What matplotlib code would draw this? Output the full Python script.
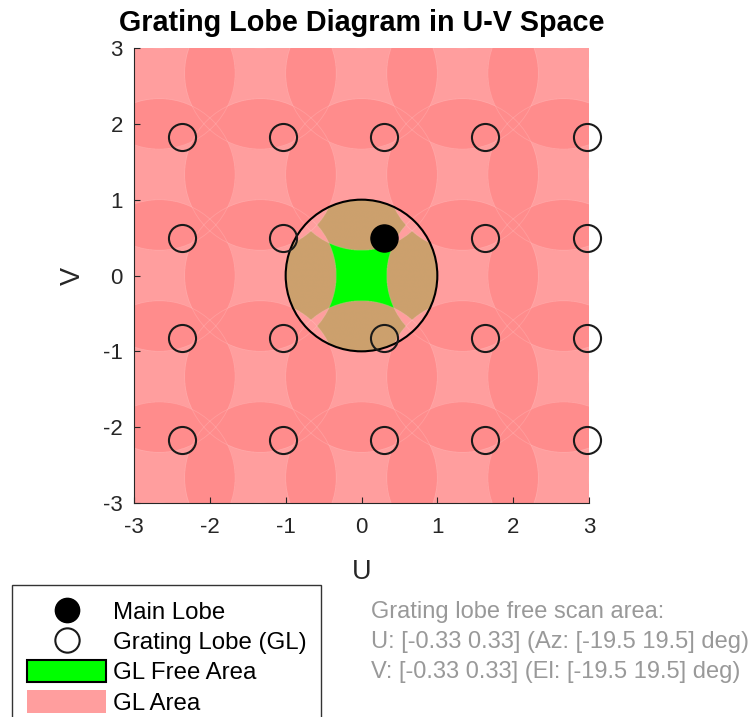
import numpy as np
import matplotlib.pyplot as plt
from matplotlib.lines import Line2D
from matplotlib.patches import Patch, Circle

plt.rcParams['font.family'] = ['Liberation Sans', 'DejaVu Sans']
plt.rcParams['axes.unicode_minus'] = False

# array lattice in u-v space (element spacing 0.75 lambda -> step 1.333)
lattice = [-4.0, -2.667, -1.333, 0.0, 1.333, 2.667, 4.0]
main_lobe = (0.30, 0.50)
gl_u = [-2.37, -1.03, 0.30, 1.63, 2.97]
gl_v = [-2.17, -0.83, 0.50, 1.83]
scan_u = [-0.33, 0.33]
scan_v = [-0.33, 0.33]
scan_az = [-19.5, 19.5]
scan_el = [-19.5, 19.5]

light_pink = (1.0, 0.62, 0.62)
dark_pink = (1.0, 0.55, 0.55)
tan = (0.80, 0.63, 0.43)
green = (0.0, 1.0, 0.0)
ink = (0.15, 0.15, 0.15)

# coverage of the grating lobe circles (radius 1 around each lattice point except origin)
n = 1200
g = np.linspace(-3, 3, n)
U, V = np.meshgrid(g, g)
count = np.zeros_like(U, dtype=int)
for cu in lattice:
    for cv in lattice:
        if cu == 0 and cv == 0:
            continue
        count += ((U - cu) ** 2 + (V - cv) ** 2 < 1).astype(int)
inside = U ** 2 + V ** 2 < 1

rgb = np.ones(U.shape + (3,))
rgb[count == 1] = light_pink
rgb[count >= 2] = dark_pink
rgb[inside & (count == 1)] = tan
rgb[inside & (count >= 2)] = light_pink
rgb[inside & (count == 0)] = green

fig = plt.figure(figsize=(7.56, 7.17), dpi=100)
ax = fig.add_axes([133 / 756, 1 - 503 / 717, 457 / 756, 455 / 717])
ax.imshow(rgb, extent=(-3, 3, -3, 3), origin='lower', interpolation='bilinear', zorder=0)

# faint seams along the patch edges
for cu in lattice:
    for cv in lattice:
        if cu == 0 and cv == 0:
            continue
        ax.add_patch(Circle((cu, cv), 1, fill=False, ec='white', lw=0.6, alpha=0.15, zorder=1))

# visible region
ax.add_patch(Circle((0, 0), 1, fill=False, ec='k', lw=1.5, zorder=2))

gu, gv = np.meshgrid(gl_u, gl_v)
mask = ~((np.isclose(gu, main_lobe[0])) & (np.isclose(gv, main_lobe[1])))
ax.plot(gu[mask], gv[mask], 'o', ms=19.5, mfc='none', mec=(0.1, 0.1, 0.1), mew=1.5,
        clip_on=False, zorder=3)
ax.plot(main_lobe[0], main_lobe[1], 'o', ms=19.5, mfc='k', mec='k', clip_on=False, zorder=4)

ax.set_xlim(-3, 3)
ax.set_ylim(-3, 3)
ax.set_aspect('equal')
ax.set_xticks(range(-3, 4))
ax.set_yticks(range(-3, 4))
ax.spines['top'].set_visible(False)
ax.spines['right'].set_visible(False)
for s in ['left', 'bottom']:
    ax.spines[s].set_color(ink)
    ax.spines[s].set_linewidth(0.8)
ax.tick_params(axis='x', direction='in', length=4, colors=ink, labelsize=16, pad=10)
ax.tick_params(axis='y', direction='in', length=4, colors=ink, labelsize=16, pad=8)
ax.set_xlabel('U', fontsize=19.5, color=ink, labelpad=15)
ax.set_ylabel('V', fontsize=19.5, color=ink, labelpad=12)
ax.set_title('Grating Lobe Diagram in U-V Space', fontsize=20.7, fontweight='bold', pad=12)

handles = [
    Line2D([], [], ls='none', marker='o', ms=17.5, mfc='k', mec='k'),
    Line2D([], [], ls='none', marker='o', ms=17.5, mfc='white', mec=(0.1, 0.1, 0.1), mew=1.5),
    Patch(fc=green, ec='k', lw=1.5),
    Patch(fc=light_pink, ec='none'),
]
labels = ['Main Lobe', 'Grating Lobe (GL)', 'GL Free Area', 'GL Area']
leg = fig.legend(handles, labels, loc='upper left', bbox_to_anchor=(12 / 756, 1 - 585 / 717),
                 fontsize=17.3, handlelength=3.3, handleheight=1.05, labelspacing=0.24,
                 handletextpad=0.28, borderpad=0.62, borderaxespad=0, fancybox=False,
                 framealpha=1, edgecolor=(0.2, 0.2, 0.2))
leg.get_frame().set_linewidth(1.0)

note = ('Grating lobe free scan area:\n'
        f'U: [{scan_u[0]:.2f} {scan_u[1]:.2f}] (Az: [{scan_az[0]} {scan_az[1]}] deg)\n'
        f'V: [{scan_v[0]:.2f} {scan_v[1]:.2f}] (El: [{scan_el[0]} {scan_el[1]}] deg)')
fig.text(371 / 756, 1 - 601 / 717, note, fontsize=17, color=(0.6, 0.6, 0.6),
         va='top', ha='left', linespacing=1.47)

fig.savefig('out.png', dpi=100)
